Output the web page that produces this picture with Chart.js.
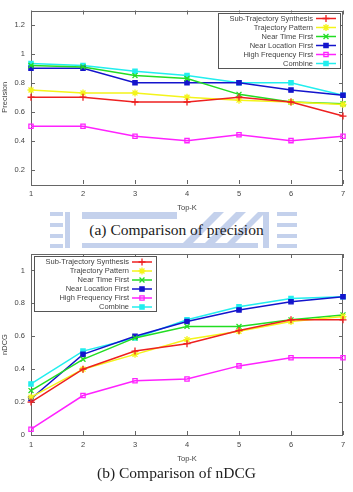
<!DOCTYPE html>
<html>
<head>
<meta charset="utf-8">
<script src="https://cdn.jsdelivr.net/npm/chart.js@4/dist/chart.umd.min.js"></script>
<style>
  html, body { margin:0; padding:0; background:#fff; }
  body { width:353px; height:492px; position:relative; overflow:hidden; }
  canvas { position:absolute; left:0; }
  #c1 { top:0; }
  #c2 { top:240px; }
  .cap { position:absolute; left:0; width:353px; text-align:center; font-family:"Liberation Serif","DejaVu Serif",serif; font-size:15.5px; color:#222; line-height:18px; }
  .wm { position:absolute; background:#c4d1ec; }
</style>
</head>
<body>
<!-- faint watermark behind caption (a) -->
<div class="wm" style="left:50px;top:212px;width:13px;height:4px"></div>
<div class="wm" style="left:50px;top:223px;width:13px;height:4px"></div>
<div class="wm" style="left:50px;top:234px;width:13px;height:4px"></div>
<div class="wm" style="left:50px;top:244px;width:13px;height:4px"></div>
<div class="wm" style="left:65px;top:212px;width:5px;height:36px"></div>
<div class="wm" style="left:82px;top:212px;width:95px;height:7px"></div>
<div class="wm" style="left:82px;top:243px;width:176px;height:5px"></div>
<div class="wm" style="left:178px;top:212px;width:10px;height:36px;transform:skewX(-45deg);transform-origin:0 100%"></div>
<div class="wm" style="left:200px;top:212px;width:10px;height:36px;transform:skewX(-45deg);transform-origin:0 100%"></div>
<div class="wm" style="left:222px;top:212px;width:8px;height:36px;transform:skewX(-45deg);transform-origin:0 100%"></div>
<div class="wm" style="left:263px;top:212px;width:6px;height:36px"></div>
<div class="wm" style="left:277px;top:212px;width:20px;height:4px"></div>
<div class="wm" style="left:277px;top:223px;width:20px;height:4px"></div>
<div class="wm" style="left:277px;top:234px;width:20px;height:4px"></div>
<div class="wm" style="left:277px;top:244px;width:20px;height:4px"></div>

<canvas id="c1" width="353" height="215"></canvas>
<div class="cap" style="top:221px">(a) Comparison of precision</div>
<canvas id="c2" width="353" height="232"></canvas>
<div class="cap" style="top:464px">(b) Comparison of nDCG</div>

<script>
// ---------- data ----------
const topK = ['1','2','3','4','5','6','7'];
const seriesNames = ['Sub-Trajectory Synthesis','Trajectory Pattern','Near Time First','Near Location First','High Frequency First','Combine'];

const precisionSTS  = [0.70, 0.70, 0.667, 0.667, 0.70, 0.667, 0.57];
const precisionTP   = [0.75, 0.73, 0.73, 0.70, 0.68, 0.667, 0.65];
const precisionNTF  = [0.92, 0.91, 0.85, 0.83, 0.72, 0.667, 0.655];
const precisionNLF  = [0.90, 0.90, 0.80, 0.80, 0.80, 0.75, 0.714];
const precisionHFF  = [0.50, 0.50, 0.43, 0.40, 0.44, 0.40, 0.43];
const precisionComb = [0.933, 0.92, 0.88, 0.85, 0.80, 0.80, 0.714];

const ndcgSTS  = [0.20, 0.40, 0.51, 0.555, 0.635, 0.70, 0.70];
const ndcgTP   = [0.23, 0.40, 0.49, 0.58, 0.63, 0.69, 0.72];
const ndcgNTF  = [0.27, 0.46, 0.59, 0.66, 0.66, 0.70, 0.73];
const ndcgNLF  = [0.22, 0.49, 0.60, 0.69, 0.76, 0.81, 0.84];
const ndcgHFF  = [0.035, 0.24, 0.33, 0.34, 0.42, 0.47, 0.47];
const ndcgComb = [0.31, 0.51, 0.59, 0.70, 0.78, 0.83, 0.84];

const precisionTicks = [0.2, 0.4, 0.6, 0.8, 1, 1.2];
const precisionTickLabels = ['0.2','0.4','0.6','0.8','1','1.2'];
const ndcgTicks = [0, 0.2, 0.4, 0.6, 0.8, 1];
const ndcgTickLabels = ['0','0.2','0.4','0.6','0.8','1'];

// ---------- styles ----------
const colors = ['#ee2020', '#f4f41a', '#22dd22', '#1414cc', '#ff22ff', '#22eeee'];
const pstyles = ['cross', 'star', 'crossRot', 'rect', 'rect', 'rect'];
const pfill = [true, true, true, true, false, true];
const TXT = '#444';
const FONT = {family: '"Liberation Sans", Arial, sans-serif', size: 7.5};

function makeDatasets(arrs) {
  return arrs.map((d, i) => ({
    label: seriesNames[i],
    data: d,
    borderColor: colors[i],
    backgroundColor: pfill[i] ? colors[i] : 'rgba(0,0,0,0)',
    pointBorderColor: colors[i],
    pointBackgroundColor: pfill[i] ? colors[i] : 'rgba(0,0,0,0)',
    pointStyle: pstyles[i],
    pointRadius: pstyles[i] === 'rect' ? 3 : 3.5,
    pointBorderWidth: 1.3,
    borderWidth: 1.5,
    tension: 0,
    fill: false
  }));
}

function drawMarker(ctx, i, x, y) {
  const opts = {pointStyle: pstyles[i], radius: pstyles[i] === 'rect' ? 3 : 3.5, borderWidth: 1.3, rotation: 0};
  ctx.strokeStyle = colors[i];
  ctx.fillStyle = pfill[i] ? colors[i] : 'rgba(0,0,0,0)';
  ctx.lineWidth = 1.3;
  if (Chart.helpers && Chart.helpers.drawPoint) {
    Chart.helpers.drawPoint(ctx, opts, x, y);
  } else {
    ctx.beginPath(); ctx.rect(x-3, y-3, 6, 6); ctx.fill(); ctx.stroke();
  }
}

const gnuFrame = {
  id: 'gnuFrame',
  beforeDatasetsDraw(chart) {
    const {ctx, chartArea: a, scales: {x, y}} = chart;
    ctx.save();
    ctx.strokeStyle = '#666';
    ctx.lineWidth = 1;
    ctx.beginPath();
    y.ticks.forEach((t, i) => {
      const py = Math.round(y.getPixelForTick(i)) + 0.5;
      ctx.moveTo(a.left, py); ctx.lineTo(a.left + 4, py);
      ctx.moveTo(a.right, py); ctx.lineTo(a.right - 4, py);
    });
    x.ticks.forEach((t, i) => {
      const px = Math.round(x.getPixelForTick(i)) + 0.5;
      ctx.moveTo(px, a.bottom); ctx.lineTo(px, a.bottom - 4);
      ctx.moveTo(px, a.top); ctx.lineTo(px, a.top + 4);
    });
    ctx.stroke();
    ctx.strokeRect(Math.round(a.left) + 0.5, Math.round(a.top) + 0.5, Math.round(a.right - a.left) - 1, Math.round(a.bottom - a.top));
    ctx.restore();
  },
  afterDatasetsDraw(chart, args, opts) {
    const {ctx, chartArea: a} = chart;
    const w = 122, h = 55, rowH = 9;
    const bx = opts.side === 'right' ? a.right - 3 - w : a.left + 3;
    const by = a.top + 2;
    ctx.save();
    ctx.fillStyle = '#fff';
    ctx.fillRect(bx, by, w, h);
    ctx.strokeStyle = '#555';
    ctx.lineWidth = 1;
    ctx.strokeRect(Math.round(bx) + 0.5, Math.round(by) + 0.5, w, h);
    ctx.font = FONT.size + 'px ' + FONT.family;
    ctx.textAlign = 'right';
    ctx.textBaseline = 'middle';
    seriesNames.forEach((name, i) => {
      const cy = by + 6 + i * rowH;
      ctx.fillStyle = TXT;
      ctx.fillText(name, bx + 95, cy);
      ctx.strokeStyle = colors[i];
      ctx.lineWidth = 1.5;
      ctx.beginPath(); ctx.moveTo(bx + 98, cy); ctx.lineTo(bx + 118, cy); ctx.stroke();
      drawMarker(ctx, i, bx + 108, cy);
    });
    ctx.restore();
  }
};

function makeChart(id, datasets, yMin, yMax, ticks, tickLabels, yTitle, side, padTop, padBottom, xHeight) {
  return new Chart(document.getElementById(id), {
    type: 'line',
    data: {labels: topK, datasets: datasets},
    options: {
      responsive: false,
      animation: false,
      devicePixelRatio: 1,
      layout: {padding: {top: padTop, right: 10, left: 0, bottom: padBottom}},
      plugins: {
        legend: {display: false},
        tooltip: {enabled: false},
        gnuFrame: {side: side}
      },
      scales: {
        x: {
          type: 'category',
          offset: false,
          grid: {display: false, drawTicks: false},
          border: {display: false},
          ticks: {color: TXT, font: FONT, padding: 5, maxRotation: 0, autoSkip: false},
          title: {display: true, text: 'Top-K', color: TXT, font: FONT, padding: 0},
          afterFit(s) { s.height = xHeight; }
        },
        y: {
          min: yMin, max: yMax,
          grid: {display: false, drawTicks: false},
          border: {display: false},
          afterBuildTicks(s) { s.ticks = ticks.map(v => ({value: v})); },
          ticks: {
            color: TXT, font: FONT, padding: 6,
            callback: (v) => { const k = ticks.findIndex(t => Math.abs(t - v) < 1e-9); return k >= 0 ? tickLabels[k] : ''; }
          },
          title: {display: true, text: yTitle, color: TXT, font: FONT, padding: 0},
          afterFit(s) { s.width = 31; }
        }
      }
    },
    plugins: [gnuFrame]
  });
}

makeChart('c1',
  makeDatasets([precisionSTS, precisionTP, precisionNTF, precisionNLF, precisionHFF, precisionComb]),
  0.1, 1.3, precisionTicks, precisionTickLabels, 'Precision', 'right', 4, 3, 28);

makeChart('c2',
  makeDatasets([ndcgSTS, ndcgTP, ndcgNTF, ndcgNLF, ndcgHFF, ndcgComb]),
  0, 1.1, ndcgTicks, ndcgTickLabels, 'nDCG', 'left', 14, 9, 28);
</script>
</body>
</html>
